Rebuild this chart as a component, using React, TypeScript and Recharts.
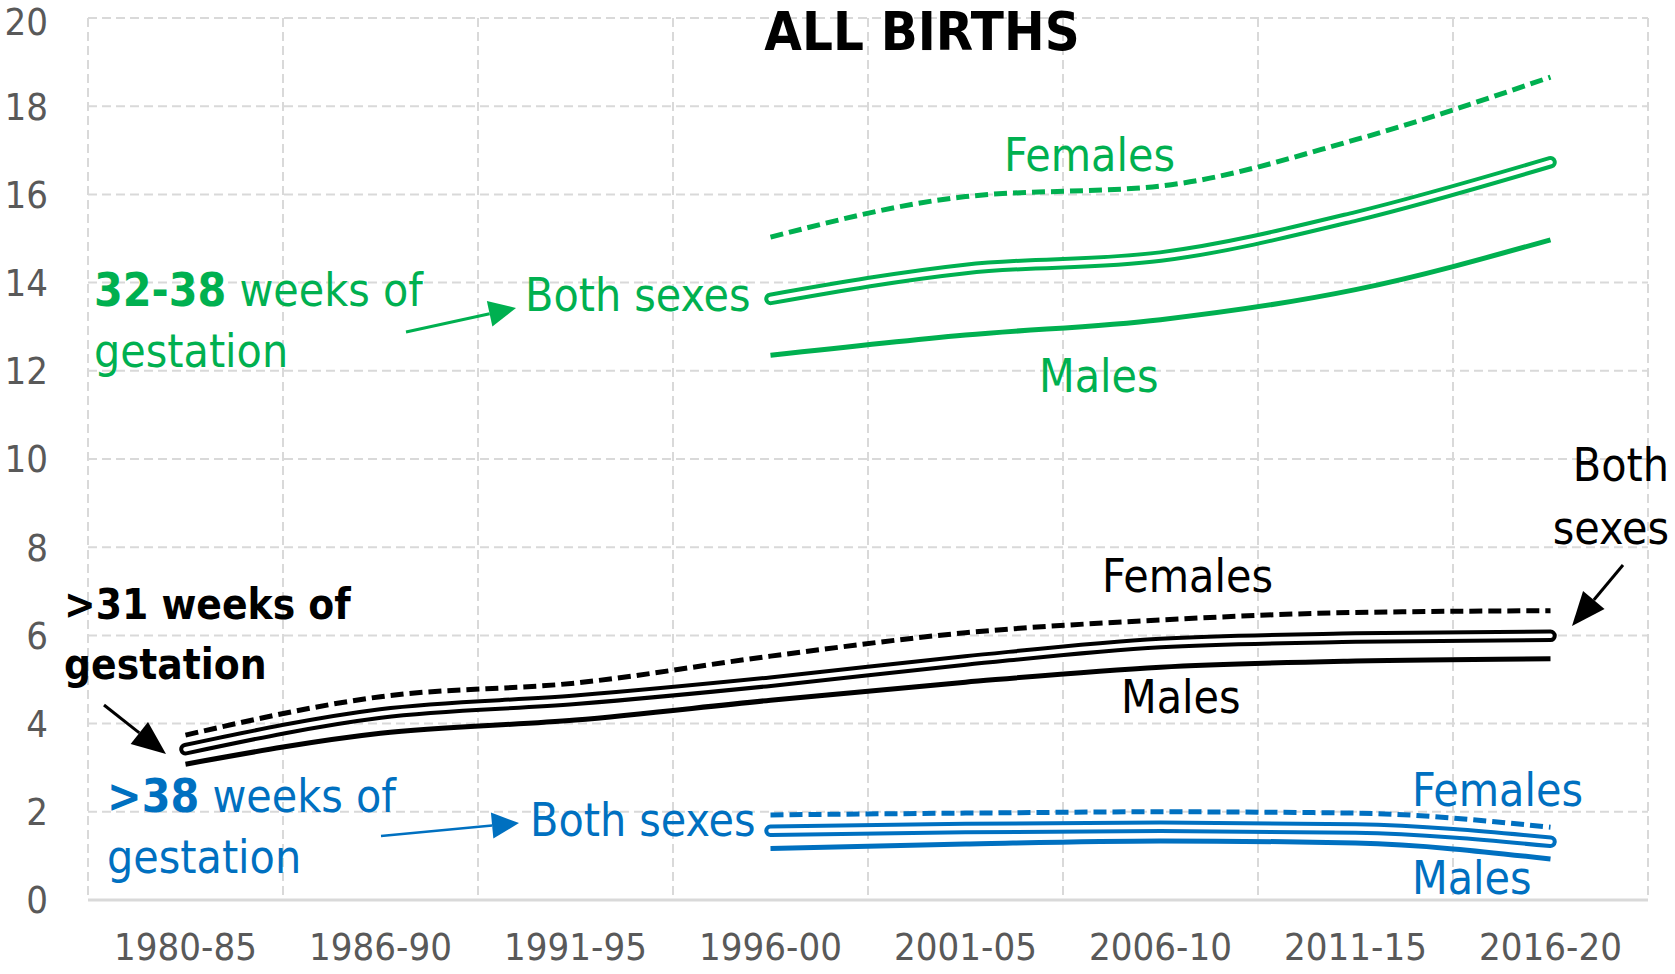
import React from "react";
import { LineChart, Line, XAxis, YAxis, CartesianGrid } from "recharts";

const periods = ["1980-85", "1986-90", "1991-95", "1996-00", "2001-05", "2006-10", "2011-15", "2016-20"];
const yTicks = [0, 2, 4, 6, 8, 10, 12, 14, 16, 18, 20];

// 32-38 weeks of gestation (green)
const midFemales = [null, null, null, 15.03, 15.95, 16.19, 17.24, 18.66];
const midBoth = [null, null, null, 13.63, 14.31, 14.59, 15.5, 16.73];
const midMales = [null, null, null, 12.35, 12.81, 13.16, 13.84, 14.97];

// >31 weeks of gestation (black)
const allFemales = [3.74, 4.61, 4.92, 5.53, 6.06, 6.35, 6.52, 6.56];
const allBoth = [3.42, 4.23, 4.54, 4.95, 5.43, 5.83, 5.95, 5.99];
const allMales = [3.08, 3.78, 4.08, 4.53, 4.94, 5.28, 5.42, 5.47];

// >38 weeks of gestation (blue)
const termFemales = [null, null, null, 1.93, 1.97, 2.0, 1.97, 1.65];
const termBoth = [null, null, null, 1.57, 1.63, 1.66, 1.62, 1.32];
const termMales = [null, null, null, 1.17, 1.27, 1.34, 1.29, 0.93];

const data = periods.map((period, i) => ({
  period,
  midFemales: midFemales[i],
  midBoth: midBoth[i],
  midMales: midMales[i],
  allFemales: allFemales[i],
  allBoth: allBoth[i],
  allMales: allMales[i],
  termFemales: termFemales[i],
  termBoth: termBoth[i],
  termMales: termMales[i],
}));

const GREEN = "#00B050";
const BLUE = "#0070C0";
const BLACK = "#000000";
const FONT = "'DejaVu Sans Condensed', 'DejaVu Sans', sans-serif";

function Arrow({ x1, y1, x2, y2, color, width, len, head }) {
  const dx = x2 - x1;
  const dy = y2 - y1;
  const d = Math.sqrt(dx * dx + dy * dy);
  const ux = dx / d;
  const uy = dy / d;
  const bx = x2 - ux * len;
  const by = y2 - uy * len;
  const px = -uy * head / 2;
  const py = ux * head / 2;
  return (
    <g>
      <line x1={x1} y1={y1} x2={bx} y2={by} stroke={color} strokeWidth={width} />
      <polygon points={`${x2},${y2} ${bx + px},${by + py} ${bx - px},${by - py}`} fill={color} />
    </g>
  );
}

function single(key, color, dashed = false) {
  return (
    <Line
      xAxisId="cat"
      type="monotone"
      dataKey={key}
      stroke={color}
      strokeWidth={5}
      strokeDasharray={dashed ? "13 6" : undefined}
      dot={false}
      activeDot={false}
      isAnimationActive={false}
    />
  );
}

function double(key, color) {
  return [
    <Line
      key={key + "-outer"}
      xAxisId="cat"
      type="monotone"
      dataKey={key}
      stroke={color}
      strokeWidth={12.5}
      strokeLinecap="round"
      dot={false}
      activeDot={false}
      isAnimationActive={false}
    />,
    <Line
      key={key + "-inner"}
      xAxisId="cat"
      type="monotone"
      dataKey={key}
      stroke="#ffffff"
      strokeWidth={4.5}
      strokeLinecap="round"
      dot={false}
      activeDot={false}
      isAnimationActive={false}
    />,
  ];
}

// vertical grid lines sit on the category boundaries
const bandEdges = ({ offset }) =>
  Array.from({ length: periods.length + 1 }, (_, i) => offset.left + (i * offset.width) / periods.length);

export default function App() {
  return (
    <div style={{ position: "absolute", left: 0, top: 0, width: 1675, height: 974, background: "#fff" }}>
      <LineChart width={1675} height={974} data={data} margin={{ top: 18, right: 27, bottom: 0, left: 8 }}>
        <CartesianGrid
          xAxisId="cat"
          stroke="#d9d9d9"
          strokeWidth={2}
          strokeDasharray="9 5"
          verticalCoordinatesGenerator={bandEdges}
        />
        <XAxis
          xAxisId="cat"
          dataKey="period"
          scale="band"
          interval={0}
          height={74}
          tickLine={false}
          tickSize={0}
          tickMargin={33}
          axisLine={{ stroke: "#d9d9d9", strokeWidth: 3 }}
          tick={{ fill: "#595959", fontSize: 38, fontFamily: FONT }}
        />
        <YAxis
          domain={[0, 20]}
          ticks={yTicks}
          width={80}
          axisLine={false}
          tickLine={false}
          tickSize={0}
          tickMargin={40}
          tick={{ fill: "#595959", fontSize: 38, fontFamily: FONT }}
        />
        {single("midFemales", GREEN, true)}
        {double("midBoth", GREEN)}
        {single("midMales", GREEN)}
        {single("allFemales", BLACK, true)}
        {double("allBoth", BLACK)}
        {single("allMales", BLACK)}
        {single("termFemales", BLUE, true)}
        {double("termBoth", BLUE)}
        {single("termMales", BLUE)}
      </LineChart>
      <svg
        width={1675}
        height={974}
        style={{ position: "absolute", left: 0, top: 0, pointerEvents: "none" }}
        fontFamily={FONT}
      >
        <text x={922} y={50} textAnchor="middle" fontSize={54} fontWeight="bold" fill={BLACK}>
          ALL BIRTHS
        </text>

        <g fill={GREEN} fontSize={46}>
          <text x={94} y={306}>
            <tspan fontWeight="bold">32-38</tspan> weeks of
          </text>
          <text x={94} y={367}>gestation</text>
          <text x={525} y={311}>Both sexes</text>
          <text x={1004} y={171}>Females</text>
          <text x={1039} y={392}>Males</text>
        </g>
        <Arrow x1={406} y1={332} x2={516} y2={308} color={GREEN} width={3} len={27} head={26} />

        <g fill={BLACK} fontSize={42} fontWeight="bold">
          <text x={64} y={619}>&gt;31 weeks of</text>
          <text x={64} y={679}>gestation</text>
        </g>
        <g fill={BLACK} fontSize={46}>
          <text x={1102} y={592}>Females</text>
          <text x={1121} y={713}>Males</text>
          <text x={1669} y={481} textAnchor="end">Both</text>
          <text x={1669} y={544} textAnchor="end">sexes</text>
        </g>
        <Arrow x1={104} y1={705} x2={166} y2={754} color={BLACK} width={3} len={34} head={28} />
        <Arrow x1={1623} y1={565} x2={1572} y2={626} color={BLACK} width={3} len={34} head={28} />

        <g fill={BLUE} fontSize={46}>
          <text x={107} y={812}>
            <tspan fontWeight="bold">&gt;38</tspan> weeks of
          </text>
          <text x={107} y={873}>gestation</text>
          <text x={530} y={836}>Both sexes</text>
          <text x={1412} y={806}>Females</text>
          <text x={1412} y={894}>Males</text>
        </g>
        <Arrow x1={381} y1={836} x2={519} y2={823} color={BLUE} width={2.5} len={27} head={26} />
      </svg>
    </div>
  );
}
